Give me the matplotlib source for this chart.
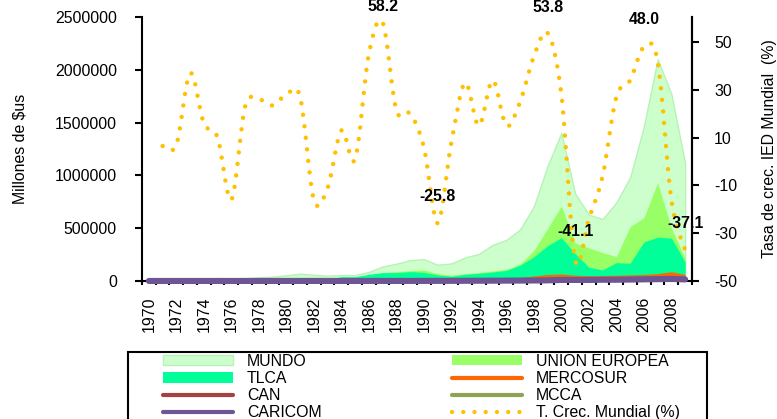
import numpy as np
import matplotlib.pyplot as plt
from matplotlib.path import Path
from matplotlib.patches import PathPatch, Patch, Rectangle
from matplotlib.lines import Line2D

plt.rcParams['font.family'] = ['Liberation Sans', 'DejaVu Sans']
plt.rcParams['axes.unicode_minus'] = False

# IED recibida (millones de $us), 1970-2009
years = list(range(1970, 2010))

mundo = [13000, 14000, 16000, 21000, 24000, 27000, 21000, 27000, 35000, 41000,
         54000, 69000, 59000, 50000, 57000, 56000, 86000, 137000, 164000, 197000,
         207000, 154000, 166000, 223000, 256000, 342000, 389000, 488000, 706000, 1092000,
         1403000, 828000, 628000, 587000, 744000, 981000, 1463000, 2100000, 1771000, 1114000]

union_europea = [5000, 5500, 6500, 9000, 10000, 10000, 9500, 11000, 14000, 18000,
                 21000, 17000, 15000, 17000, 17000, 20000, 57000, 79000, 89000, 98000,
                 105000, 70000, 55000, 70000, 80000, 95000, 110000, 160000, 290000, 500000,
                 710000, 361000, 314000, 269000, 231000, 516000, 599000, 931000, 504000, 215000]

tlca = [7000, 7000, 7500, 10000, 12000, 9000, 9000, 10000, 14000, 22000,
        25000, 32000, 20000, 18000, 41000, 41000, 63000, 79000, 79000, 89000,
        82000, 57000, 45000, 63000, 73000, 85000, 100000, 150000, 230000, 335000,
        410000, 260000, 130000, 105000, 174000, 168000, 370000, 415000, 406000, 182000]

mercosur = [1000, 1000, 1000, 1000, 1500, 1500, 1500, 2000, 2000, 2500,
            2500, 3000, 3000, 2500, 2000, 2000, 1500, 2000, 3000, 2500,
            2500, 3000, 4000, 5000, 7000, 12000, 20000, 33000, 48000, 62000,
            66000, 55000, 50000, 52000, 55000, 58000, 62000, 70000, 88000, 62000]

can = [300, 200, 300, 300, 400, 500, 600, 700, 700, 800,
       900, 1100, 1200, 1000, 900, 1000, 1100, 1300, 1100, 1000,
       1800, 2000, 2700, 3500, 5300, 5000, 7400, 9500, 8000, 7600,
       6600, 8200, 7300, 6800, 8700, 11000, 7000, 15000, 19000, 10000]

mcca = [100, 100, 100, 100, 150, 150, 150, 200, 200, 200,
        250, 250, 200, 200, 250, 250, 300, 300, 350, 400,
        450, 500, 600, 700, 800, 900, 1000, 1500, 1800, 2500,
        2200, 2000, 2000, 2300, 2800, 3000, 3500, 4500, 4600, 3000]

caricom = [300, 300, 300, 300, 400, 400, 400, 400, 500, 500,
           500, 600, 600, 500, 500, 500, 600, 700, 700, 800,
           1000, 1200, 1500, 2000, 2500, 3000, 3500, 4000, 5000, 6000,
           10000, 10000, 10000, 12000, 12000, 14000, 16000, 18000, 20000, 15000]

# tasa de crecimiento de la IED mundial (%), 1971-2009
years_tasa = list(range(1971, 2010))
tasa = [6.5, 7, 37, 16, 10, -16, 23, 26, 23.5, 28,
        27, -16, -11, 13, 1, 45, 58.2, 21.5, 20, 6,
        -25.8, 8, 33, 15, 34, 15, 25, 44, 53.8, 28,
        -41.1, -24, -6, 27, 34, 48.0, 42, -16, -37.1]

label_years = [1987, 1991, 1999, 2001, 2006, 2009]

c_mundo = '#CCFFCC'
c_ue = '#99FF66'
c_tlca = '#00FF99'
c_merc = '#FF6600'
c_can = '#A5423F'
c_mcca = '#8CA44F'
c_cari = '#6E5593'
c_tasa = '#FFC000'

fs = 11.4

fig = plt.figure(figsize=(7.77, 4.19), dpi=100)
ax = fig.add_axes([142 / 777, 1 - 281 / 419, 550 / 777, 264 / 419])

ax.fill_between(years, mundo, color=c_mundo, edgecolor='#B8F2B8', lw=1)
ax.fill_between(years, union_europea, color=c_ue, lw=0)
ax.fill_between(years, tlca, color=c_tlca, lw=0)
ax.fill_between(years, mercosur, color=c_merc, lw=0)
ax.plot(years, can, color=c_can, lw=3, solid_capstyle='round')
ax.plot(years, mcca, color=c_mcca, lw=3, solid_capstyle='round')
ax.plot(years, caricom, color=c_cari, lw=4.4, solid_capstyle='round', clip_on=False, zorder=3)

ax.set_xlim(1969.5, 2009.5)
ax.set_ylim(0, 2500000)
ax.set_yticks(range(0, 2500001, 500000))
ax.set_yticklabels([str(v) for v in range(0, 2500001, 500000)], fontsize=fs)
ax.set_xticks(years[::2])
ax.set_xticklabels([str(y) for y in years[::2]], rotation=90, fontsize=fs)
ax.set_xticks(np.arange(1969.5, 2010, 1), minor=True)
ax.tick_params(axis='x', which='major', length=0, pad=11)
ax.tick_params(axis='x', which='minor', length=3, width=1.5, direction='out')
ax.tick_params(axis='y', length=5, width=1.5, direction='out', pad=13)
ax.set_ylabel('Millones de $us', fontsize=fs)
ax.yaxis.set_label_coords(-0.209, 0.5)
ax.spines['top'].set_visible(False)
for s in ['left', 'bottom', 'right']:
    ax.spines[s].set_linewidth(1.5)

# eje secundario: tasa de crecimiento, linea suavizada punteada
ax2 = ax.twinx()
ax2.set_ylim(-50, 60.5)
ax2.set_yticks(range(-50, 51, 20))
ax2.set_yticklabels([str(v) for v in range(-50, 51, 20)], fontsize=fs)
ax2.tick_params(axis='y', length=5, width=1.5, direction='out', pad=11)
ax2.set_ylabel('Tasa de crec. IED Mundial  (%)', fontsize=fs)
ax2.yaxis.set_label_coords(1.128, 0.5)
ax2.spines['top'].set_visible(False)
ax2.spines['right'].set_linewidth(1.5)
ax2.spines['left'].set_visible(False)
ax2.spines['bottom'].set_visible(False)


def smooth_path(xs, ys):
    # curva tipo "linea suavizada" de Excel (segmentos Bezier)
    verts = [(xs[0], ys[0])]
    codes = [Path.MOVETO]
    n = len(xs)
    for i in range(n - 1):
        p0 = (xs[max(i - 1, 0)], ys[max(i - 1, 0)])
        p1 = (xs[i], ys[i])
        p2 = (xs[i + 1], ys[i + 1])
        p3 = (xs[min(i + 2, n - 1)], ys[min(i + 2, n - 1)])
        c1 = (p1[0] + (p2[0] - p0[0]) / 6, p1[1] + (p2[1] - p0[1]) / 6)
        c2 = (p2[0] - (p3[0] - p1[0]) / 6, p2[1] - (p3[1] - p1[1]) / 6)
        verts += [c1, c2, p2]
        codes += [Path.CURVE4] * 3
    return Path(verts, codes)


dots = (0, (0.01, 2.6))
ax2.add_patch(PathPatch(smooth_path(years_tasa, tasa), fill=False, edgecolor=c_tasa,
                        lw=3.2, linestyle=dots, capstyle='round', clip_on=False))

label_offsets = [16, 27, 26, 28, 27, 27]
for yr, off in zip(label_years, label_offsets):
    v = tasa[years_tasa.index(yr)]
    ax2.annotate(f'{v:.1f}', (yr, v), xytext=(0, off), textcoords='offset pixels',
                 ha='center', va='center', fontsize=fs, fontweight='bold',
                 annotation_clip=False)

# leyenda en dos columnas con marco propio
h_mundo = Patch(facecolor=c_mundo, edgecolor='#B8F2B8')
h_ue = Patch(facecolor=c_ue)
h_tlca = Patch(facecolor=c_tlca)
h_merc = Line2D([], [], color=c_merc, lw=3, solid_capstyle='round')
h_can = Line2D([], [], color=c_can, lw=3, solid_capstyle='round')
h_mcca = Line2D([], [], color=c_mcca, lw=3, solid_capstyle='round')
h_cari = Line2D([], [], color=c_cari, lw=3, solid_capstyle='round')
h_tasa = Line2D([], [], color=c_tasa, lw=3.1, linestyle=dots, dash_capstyle='round')

leg_kw = dict(loc='upper left', frameon=False, borderpad=0, borderaxespad=0,
              handlelength=4.4, handletextpad=0.9, labelspacing=0.13,
              handleheight=0.6, fontsize=fs)
fig.legend([h_mundo, h_tlca, h_can, h_cari], ['MUNDO', 'TLCA', 'CAN', 'CARICOM'],
           bbox_to_anchor=(163 / 777, 1 - 354 / 419), **leg_kw)
fig.legend([h_ue, h_merc, h_mcca, h_tasa],
           ['UNION EUROPEA', 'MERCOSUR', 'MCCA', 'T. Crec. Mundial (%)'],
           bbox_to_anchor=(452 / 777, 1 - 354 / 419), **leg_kw)
fig.add_artist(Rectangle((128 / 777, 1 - 440 / 419), 579 / 777, 88 / 419,
                         transform=fig.transFigure, fill=False, edgecolor='black',
                         lw=1.5, clip_on=False))

fig.savefig('out.png', dpi=100)
